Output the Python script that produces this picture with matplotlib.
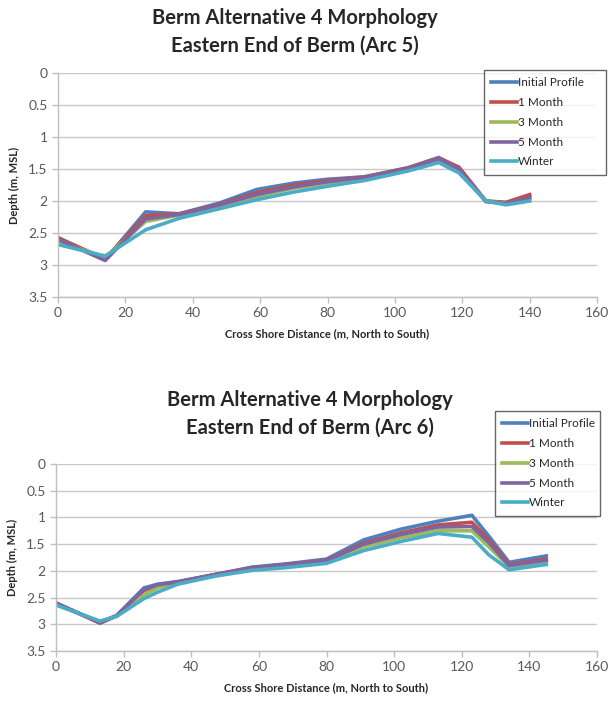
import matplotlib
matplotlib.use("Agg")
import matplotlib.pyplot as plt

plt.rcParams['font.family'] = ['Lato', 'DejaVu Sans']

series_names = ["Initial Profile", "1 Month", "3 Month", "5 Month", "Winter"]
colors = ["#4F81BD", "#C0504D", "#9BBB59", "#8064A2", "#4BACC6"]

# Arc 5
x5 = [0, 14, 26, 36, 48, 59, 70, 80, 86, 91, 104, 113, 119, 127, 133, 140]
arc5_initial = [2.57, 2.92, 2.17, 2.20, 2.03, 1.82, 1.72, 1.66, 1.64, 1.62, 1.48, 1.32, 1.48, 2.00, 2.03, 1.92]
arc5_1m      = [2.58, 2.90, 2.23, 2.20, 2.05, 1.87, 1.75, 1.68, 1.65, 1.63, 1.48, 1.33, 1.47, 2.00, 2.02, 1.90]
arc5_3m      = [2.63, 2.88, 2.32, 2.22, 2.08, 1.93, 1.80, 1.72, 1.68, 1.65, 1.50, 1.36, 1.53, 2.00, 2.04, 1.97]
arc5_5m      = [2.60, 2.93, 2.28, 2.21, 2.06, 1.90, 1.78, 1.70, 1.66, 1.64, 1.49, 1.34, 1.50, 2.01, 2.04, 1.95]
arc5_winter  = [2.68, 2.86, 2.45, 2.27, 2.12, 1.98, 1.86, 1.77, 1.72, 1.68, 1.53, 1.40, 1.56, 2.00, 2.06, 2.00]

# Arc 6
x6 = [0, 13, 18, 26, 30, 36, 47, 58, 68, 80, 91, 102, 113, 123, 128, 134, 145]
arc6_initial = [2.60, 2.97, 2.83, 2.32, 2.25, 2.20, 2.07, 1.93, 1.87, 1.78, 1.42, 1.22, 1.07, 0.96, 1.35, 1.84, 1.72]
arc6_1m      = [2.60, 2.98, 2.84, 2.37, 2.27, 2.21, 2.07, 1.94, 1.88, 1.80, 1.48, 1.29, 1.14, 1.09, 1.42, 1.88, 1.78]
arc6_3m      = [2.62, 2.96, 2.84, 2.45, 2.32, 2.22, 2.08, 1.96, 1.90, 1.82, 1.55, 1.38, 1.25, 1.25, 1.55, 1.92, 1.83]
arc6_5m      = [2.61, 2.97, 2.84, 2.35, 2.26, 2.21, 2.07, 1.95, 1.88, 1.81, 1.50, 1.32, 1.18, 1.17, 1.47, 1.90, 1.80]
arc6_winter  = [2.64, 2.94, 2.85, 2.52, 2.40, 2.25, 2.10, 1.99, 1.94, 1.86, 1.62, 1.45, 1.30, 1.37, 1.70, 1.98, 1.88]

xticks = [0, 20, 40, 60, 80, 100, 120, 140, 160]
yticks = [0, 0.5, 1, 1.5, 2, 2.5, 3, 3.5]
ytick_labels = ["0", "0.5", "1", "1.5", "2", "2.5", "3", "3.5"]

W, H = 608, 709
fig = plt.figure(figsize=(W / 100, H / 100), dpi=100)

grey = "#595959"


def make_axes(rect, x, ys, title2, title_cx, t1y, t2y, legend_rect):
    l, t, r, b = rect
    ax = fig.add_axes([l / W, 1 - b / H, (r - l) / W, (b - t) / H])
    for name, c, y in zip(series_names, colors, ys):
        ax.plot(x, y, color=c, lw=2.6, label=name, solid_joinstyle='round')
    ax.set_xlim(0, 160)
    ax.set_ylim(3.5, 0)
    ax.set_xticks(xticks)
    ax.set_yticks(yticks)
    ax.set_yticklabels(ytick_labels)
    ax.grid(axis='y', color='#C8C8C8', lw=1.0)
    ax.set_axisbelow(True)
    for s in ['top', 'right']:
        ax.spines[s].set_visible(False)
    for s in ['left', 'bottom']:
        ax.spines[s].set_color('#BFBFBF')
        ax.spines[s].set_linewidth(1.0)
    ax.tick_params(axis='both', colors='#BFBFBF', labelcolor=grey, labelsize=10,
                   length=4, direction='out', width=1.0)
    ax.set_xlabel("Cross Shore Distance (m, North to South)", fontsize=8,
                  fontweight='bold', color='#262626', labelpad=6)
    ax.set_ylabel("Depth (m, MSL)", fontsize=8, fontweight='bold', color='#262626',
                  labelpad=6)
    fig.text(title_cx / W, 1 - t1y / H, "Berm Alternative 4 Morphology", ha='center',
             va='center', fontsize=14.5, fontweight='bold', color='#262626')
    fig.text(title_cx / W, 1 - t2y / H, title2, ha='center', va='center',
             fontsize=14.5, fontweight='bold', color='#262626')
    ll, lt, lr, lb = legend_rect
    leg = ax.legend(loc='upper left',
                    bbox_to_anchor=(ll / W, 1 - lb / H, (lr - ll) / W, (lb - lt) / H),
                    bbox_transform=fig.transFigure, mode='expand',
                    fontsize=8.5, frameon=True, fancybox=False, handlelength=2.2,
                    handletextpad=0.1, labelspacing=0.75, borderpad=0.6,
                    borderaxespad=0)
    leg.get_frame().set_edgecolor('#404040')
    leg.get_frame().set_linewidth(1.0)
    for txt in leg.get_texts():
        txt.set_color('#262626')
    return ax


make_axes((58, 73, 597, 297), x5,
          [arc5_initial, arc5_1m, arc5_3m, arc5_5m, arc5_winter],
          "Eastern End of Berm (Arc 5)", 295, 18, 46, (484, 70, 606, 179))
make_axes((56, 464, 597, 651), x6,
          [arc6_initial, arc6_1m, arc6_3m, arc6_5m, arc6_winter],
          "Eastern End of Berm (Arc 6)", 310, 400, 428, (495, 411, 600, 531))

fig.savefig("out.png", dpi=100, facecolor='white')
